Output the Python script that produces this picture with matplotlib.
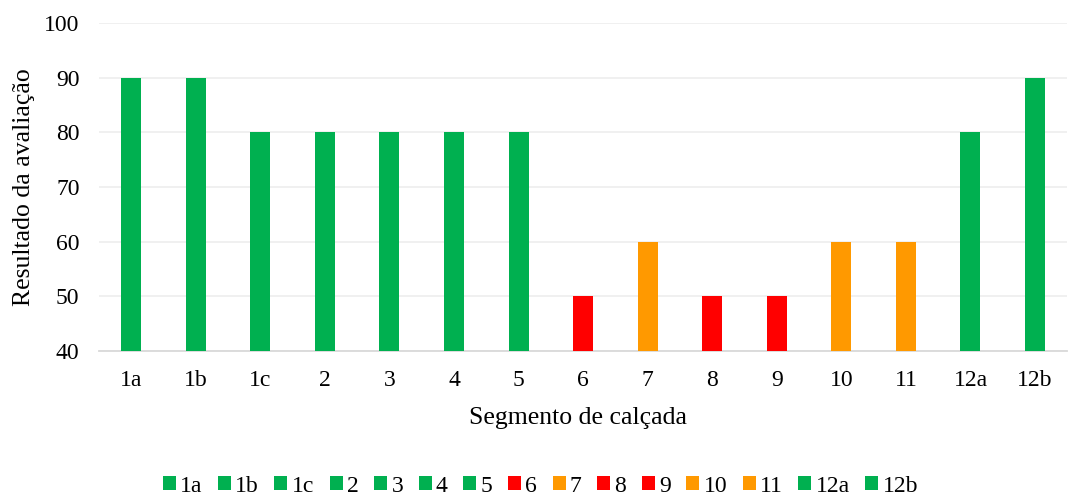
import matplotlib.pyplot as plt
from matplotlib.patches import Patch

segmentos = ["1a", "1b", "1c", "2", "3", "4", "5", "6", "7", "8", "9", "10", "11", "12a", "12b"]
resultado = [90, 90, 80, 80, 80, 80, 80, 50, 60, 50, 50, 60, 60, 80, 90]
cores = ["#00B050"] * 7 + ["#FF0000", "#FF9900", "#FF0000", "#FF0000", "#FF9900", "#FF9900", "#00B050", "#00B050"]

plt.rcParams['font.family'] = ['Liberation Serif', 'DejaVu Serif']

fig = plt.figure(figsize=(10.7, 4.97), dpi=100)
ax = fig.add_axes([0.0925, 0.294, 0.905, 0.66])

x = range(len(segmentos))
ax.bar(x, resultado, width=0.31, color=cores, zorder=3)

ax.set_ylim(40, 100)
ax.set_xlim(-0.5, len(segmentos) - 0.5)
ax.set_yticks(range(40, 101, 10))
ax.set_xticks(list(x))
ax.set_xticklabels(segmentos)
ax.tick_params(axis='both', length=0, labelsize=17)
ax.tick_params(axis='y', pad=14)
ax.tick_params(axis='x', pad=14)
ax.grid(axis='y', color='#EFEFEF', linewidth=1.3, zorder=0)
for s in ['top', 'right', 'left']:
    ax.spines[s].set_visible(False)
ax.spines['bottom'].set_color('#D9D9D9')
ax.spines['bottom'].set_linewidth(1.3)

ax.set_xlabel("Segmento de calçada", fontsize=18.5)
ax.set_ylabel("Resultado da avaliação", fontsize=18.5)
ax.xaxis.set_label_coords(0.5 - 0.005, -0.17)
ax.yaxis.set_label_coords(-0.066, 0.5)

handles = [Patch(facecolor=c, label=s) for s, c in zip(segmentos, cores)]
fig.legend(handles=handles, loc='center', bbox_to_anchor=(0.505, 0.022), ncol=len(segmentos),
           frameon=False, fontsize=17, handlelength=0.55, handleheight=0.55,
           handletextpad=0.18, columnspacing=0.66, borderpad=0)

fig.savefig("out.png", dpi=100)
